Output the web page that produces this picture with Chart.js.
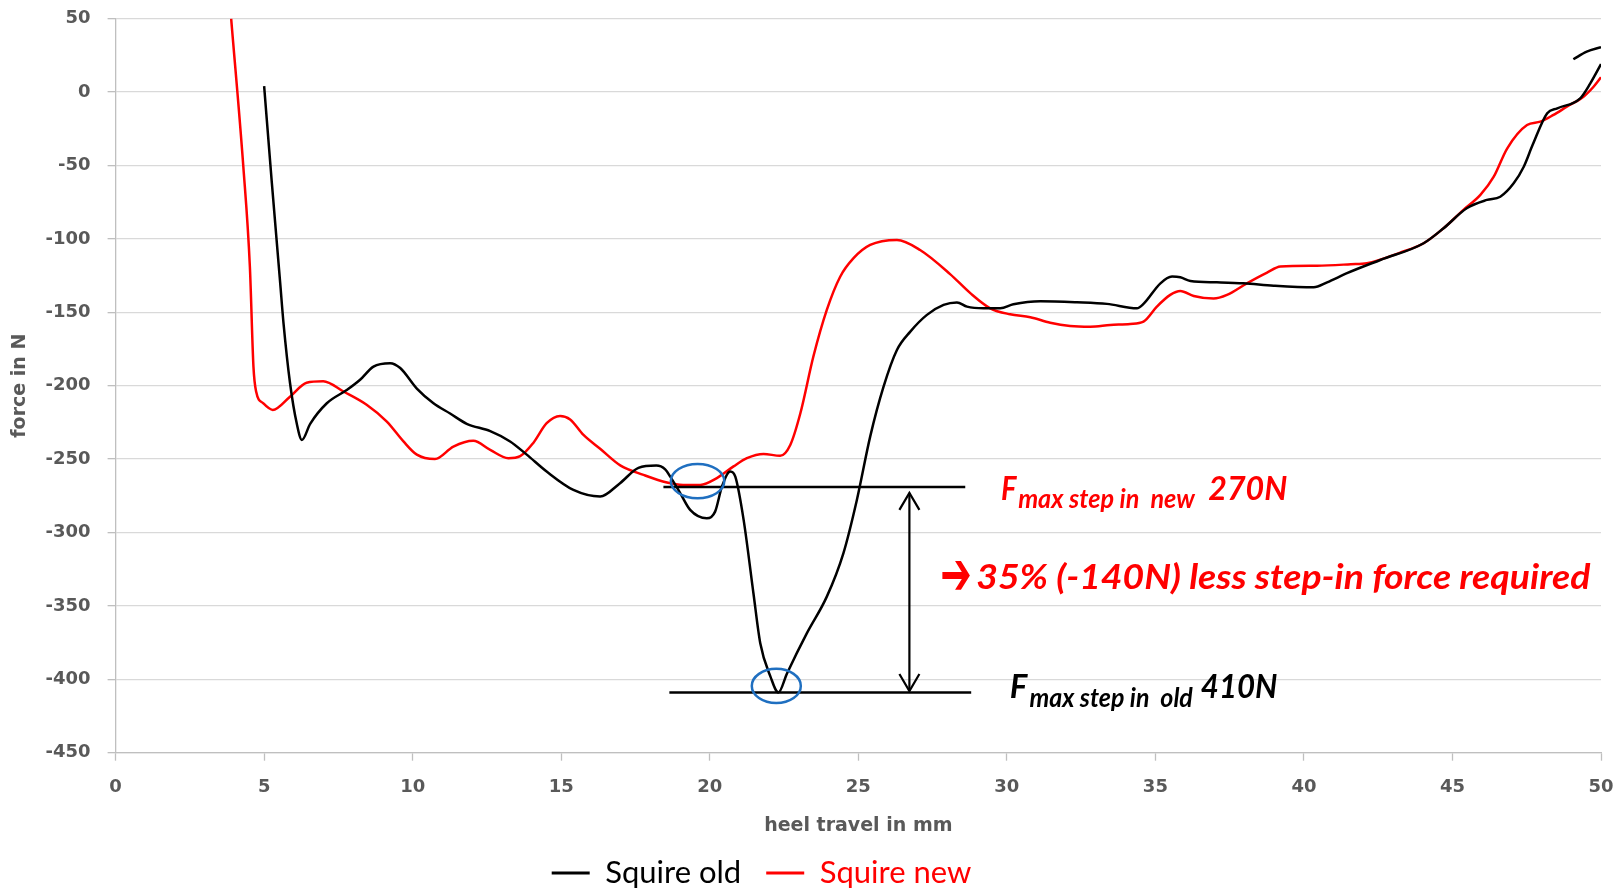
<!DOCTYPE html>
<html>
<head>
<meta charset="utf-8">
<script src="https://cdn.jsdelivr.net/npm/chart.js@4.4.1/dist/chart.umd.min.js"></script>
<style>
html,body{margin:0;padding:0;background:#fff;overflow:hidden;}
#wrap{width:1619px;height:891px;position:relative;overflow:hidden;}
#wrap canvas{display:block;}
</style>
</head>
<body>
<div id="wrap"><canvas id="c"></canvas></div>
<script>
// ---- data ----
const seriesNames = ['Squire old', 'Squire new'];
const oldX = [5.0,5.26,5.54,5.65,5.87,6.1,6.27,6.55,7.11,7.78,8.23,8.68,9.24,9.58,10.14,10.7,11.26,11.82,12.61,13.28,13.84,14.51,15.41,16.31,16.98,17.6,18.2,18.5,18.67,19.0,19.34,19.9,20.18,20.41,20.69,20.86,21.14,21.47,21.7,22.04,22.31,22.6,23.27,23.94,24.5,24.95,25.4,25.85,26.3,26.75,27.31,27.87,28.32,28.66,29.22,29.78,30.22,31.13,32.36,33.37,34.38,34.6,35.17,35.56,35.84,36.18,37.07,37.97,38.98,40.33,40.78,41.45,42.57,44.03,44.7,45.48,46.16,46.61,47.06,47.4,47.7,48.19,48.53,49.3,49.64,50.0];
const oldY = [4,-62,-130,-157,-198,-226,-237,-226,-212,-203,-196,-187,-184.7,-188,-202,-212,-219,-226,-231,-238,-247,-258.5,-271,-275.5,-266.4,-256,-254.4,-257,-262,-273,-284.6,-290.3,-285.8,-268.7,-258.5,-262,-291.4,-341.4,-375.4,-398,-409,-396,-368.6,-343.7,-314,-278,-234.7,-200.7,-175.7,-163.2,-151.8,-145,-143.3,-146.2,-147.3,-147.3,-144.6,-142.5,-143.2,-144.3,-147.3,-144.3,-130.3,-125.7,-126.2,-128.7,-129.6,-130.3,-131.9,-133,-129.6,-123.4,-114.4,-103,-92.8,-79.2,-73.5,-71.3,-62.2,-50.9,-36,-14.5,-11.1,-4.3,5.9,19];
const oldTailX = [49.07,49.52,50.0];
const oldTailY = [22.3,27.5,30.5];
const newX = [3.89,4.3,4.52,4.64,4.73,4.97,5.29,5.87,6.43,6.99,7.67,8.45,9.13,9.69,10.14,10.75,11.37,12.04,12.61,13.22,13.62,14.06,14.51,14.96,15.3,15.75,16.31,17.0,17.77,18.56,19.1,19.68,20.24,20.8,21.25,21.81,22.37,22.71,23.05,23.49,23.94,24.39,24.84,25.4,26.3,27.08,28.09,28.77,29.44,30.11,30.79,31.46,32.13,32.81,33.48,34.15,34.6,35.05,35.5,35.84,36.29,36.96,37.41,38.08,38.76,39.21,40.44,41.58,42.12,43.24,44.03,44.7,45.37,45.94,46.39,46.84,47.51,47.96,48.4,48.85,49.41,49.75,50.0];
const newY = [50,-51,-119,-187,-204,-212,-216.5,-207.5,-198,-197,-204,-213,-224.5,-238,-247,-250,-241.5,-237.6,-243.8,-249.4,-248,-239,-225.6,-220.6,-223,-233.6,-243,-254.5,-260.8,-266,-267.6,-267.6,-263,-255,-249.4,-246.5,-247.8,-240.4,-218.8,-180,-148.4,-125.8,-113.2,-104.2,-100.8,-107.6,-124,-137,-147.3,-151.4,-153.4,-157.1,-159.3,-159.8,-158.7,-158,-156.4,-146.2,-138.2,-135.5,-138.9,-140.7,-138.2,-130.3,-123,-118.9,-118.3,-117.3,-116.6,-109.4,-103,-92.8,-80.3,-70.1,-57.7,-38.5,-22.5,-20.2,-15.6,-10,-3.2,3.6,10];
const xTicks = [0,5,10,15,20,25,30,35,40,45,50];
const yTicks = [50,0,-50,-100,-150,-200,-250,-300,-350,-400,-450];
const xTitle = 'heel travel in mm';
const yTitle = 'force in N';

// ---- annotations (in data units) ----
const refLines = [
  {x1:18.44, x2:28.6, y:-269},
  {x1:18.64, x2:28.8, y:-409}
];
const dimArrow = {x:26.72, y1:-273, y2:-408};
const circles = [
  {x:19.59, y:-265, rx:0.90, ry:11.7},
  {x:22.24, y:-404.5, rx:0.825, ry:11.6}
];
const texts = [
  {t:'F', x1:29.80, x2:30.32, y:-277.8, size:32, color:'#ff0000'},
  {t:'max step in  new', x1:30.38, x2:36.33, y:-283.5, size:26, color:'#ff0000'},
  {t:'270N', x1:36.78, x2:39.44, y:-277.8, size:32, color:'#ff0000'},
  {t:'\u2794', x1:27.76, x2:28.82, y:-331, size:60, color:'#ff0000', arrow:true},
  {t:'35% (-140N) less step-in force required', x1:28.97, x2:49.64, y:-338.6, size:34, color:'#ff0000'},
  {t:'F', x1:30.10, x2:30.69, y:-412.8, size:32, color:'#000000'},
  {t:'max step in  old', x1:30.76, x2:36.26, y:-419, size:26, color:'#000000'},
  {t:'410N', x1:36.53, x2:39.11, y:-412.8, size:32, color:'#000000'}
];

const pts = (xs, ys) => xs.map((x, i) => ({x: x, y: ys[i]}));

const annotationPlugin = {
  id: 'annot',
  afterDatasetsDraw(chart) {
    const ctx = chart.ctx, xs = chart.scales.x, ys = chart.scales.y;
    const X = v => xs.getPixelForValue(v), Y = v => ys.getPixelForValue(v);
    ctx.save();
    ctx.strokeStyle = '#000';
    ctx.lineWidth = 2.5;
    refLines.forEach(l => {
      ctx.beginPath(); ctx.moveTo(X(l.x1), Y(l.y)); ctx.lineTo(X(l.x2), Y(l.y)); ctx.stroke();
    });
    // double arrow
    const ax = X(dimArrow.x), ay1 = Y(dimArrow.y1), ay2 = Y(dimArrow.y2);
    ctx.lineWidth = 2.2;
    ctx.beginPath(); ctx.moveTo(ax, ay1); ctx.lineTo(ax, ay2); ctx.stroke();
    ctx.beginPath();
    ctx.moveTo(ax - 10, ay1 + 17); ctx.lineTo(ax, ay1); ctx.lineTo(ax + 10, ay1 + 17);
    ctx.moveTo(ax - 10, ay2 - 17); ctx.lineTo(ax, ay2); ctx.lineTo(ax + 10, ay2 - 17);
    ctx.stroke();
    // ellipses
    ctx.strokeStyle = '#1f6fc0';
    ctx.lineWidth = 2.5;
    circles.forEach(c => {
      const cx = X(c.x), cy = Y(c.y);
      const rx = Math.abs(X(c.x + c.rx) - cx), ry = Math.abs(Y(c.y + c.ry) - cy);
      ctx.beginPath(); ctx.ellipse(cx, cy, rx, ry, 0, 0, Math.PI * 2); ctx.stroke();
    });
    // texts
    texts.forEach(tx => {
      ctx.font = (tx.arrow ? 'bold ' : 'italic bold ') + tx.size + 'px ' + (tx.arrow ? '"DejaVu Sans"' : 'Lato, "Open Sans", sans-serif');
      ctx.fillStyle = tx.color;
      ctx.textBaseline = tx.arrow ? 'middle' : 'alphabetic';
      ctx.textAlign = 'left';
      const w = ctx.measureText(tx.t).width;
      const x1 = X(tx.x1), x2 = X(tx.x2), y = Y(tx.y);
      ctx.save();
      ctx.translate(x1, y);
      ctx.scale((x2 - x1) / w, 1);
      ctx.fillText(tx.t, 0, 0);
      ctx.restore();
    });
    ctx.restore();
  }
};

const legendPlacer = {
  id: 'legendPlacer',
  afterLayout(chart) {
    const lg = chart.legend;
    if (!lg) return;
    const pad = lg.options.labels.padding;
    lg.left = 551.7 - pad;
    lg.right = lg.left + 1000;
    lg.top = 873 - pad - lg.options.labels.font.size / 2;
    lg.bottom = 891;
    lg.height = lg.bottom - lg.top;
    lg.width = lg.right - lg.left;
  }
};

const tickFont = {family: '"DejaVu Sans", sans-serif', size: 18, weight: 'bold'};
const titleFont = {family: '"DejaVu Sans", sans-serif', size: 19, weight: 'bold'};
const gray = '#595959';

new Chart(document.getElementById('c'), {
  type: 'scatter',
  data: {
    datasets: [
      {label: seriesNames[0], data: pts(oldX, oldY), borderColor: '#000000', backgroundColor: '#000000', borderWidth: 2.5, showLine: true, pointRadius: 0, cubicInterpolationMode: 'monotone'},
      {label: seriesNames[1], data: pts(newX, newY), borderColor: '#ff0000', backgroundColor: '#ff0000', borderWidth: 2.5, showLine: true, pointRadius: 0, cubicInterpolationMode: 'monotone'},
      {label: '', data: pts(oldTailX, oldTailY), borderColor: '#000000', backgroundColor: '#000000', borderWidth: 2.5, showLine: true, pointRadius: 0, cubicInterpolationMode: 'monotone', hideInLegend: true}
    ]
  },
  options: {
    responsive: true,
    maintainAspectRatio: false,
    animation: false,
    devicePixelRatio: 1,
    layout: {padding: {top: 18.6, right: 18, left: 0, bottom: 0}},
    plugins: {
      tooltip: {enabled: false},
      legend: {
        position: 'bottom',
        align: 'start',
        maxHeight: 40,
        labels: {
          font: {family: 'Lato, "Open Sans", sans-serif', size: 31},
          boxWidth: 38,
          boxHeight: 3,
          padding: 25,
          generateLabels(chart) {
            return chart.data.datasets.map((ds, i) => ({
              text: ds.label, fillStyle: ds.borderColor, strokeStyle: ds.borderColor,
              lineWidth: 0, fontColor: ds.borderColor, hidden: false, datasetIndex: i
            })).filter(it => !chart.data.datasets[it.datasetIndex].hideInLegend);
          }
        }
      }
    },
    scales: {
      x: {
        type: 'linear', min: 0, max: 50,
        afterBuildTicks(scale) { scale.ticks = xTicks.map(v => ({value: v})); },
        afterFit(scale) { scale.height = 98.3; scale.paddingLeft = 0; scale.paddingRight = 0; },
        ticks: {font: tickFont, color: gray, padding: 16, maxRotation: 0},
        grid: {drawOnChartArea: false, drawTicks: true, tickLength: 8, tickColor: '#bfbfbf', tickWidth: 1.3},
        border: {color: '#bfbfbf', width: 1.3},
        title: {display: true, text: xTitle, font: titleFont, color: gray, padding: {top: 4, bottom: 13.6}}
      },
      y: {
        type: 'linear', min: -450, max: 50,
        afterBuildTicks(scale) { scale.ticks = yTicks.slice().reverse().map(v => ({value: v})); },
        afterFit(scale) { scale.width = 115.6; scale.paddingTop = 0; scale.paddingBottom = 0; },
        ticks: {font: tickFont, color: gray, padding: 17},
        grid: {color: '#d9d9d9', lineWidth: 1.3, drawTicks: true, tickLength: 8, tickColor: '#bfbfbf'},
        border: {color: '#bfbfbf', width: 1.3},
        title: {display: true, text: yTitle, font: titleFont, color: gray, padding: {top: 8.6, bottom: 4}}
      }
    }
  },
  plugins: [annotationPlugin, legendPlacer]
});
</script>
</body>
</html>
